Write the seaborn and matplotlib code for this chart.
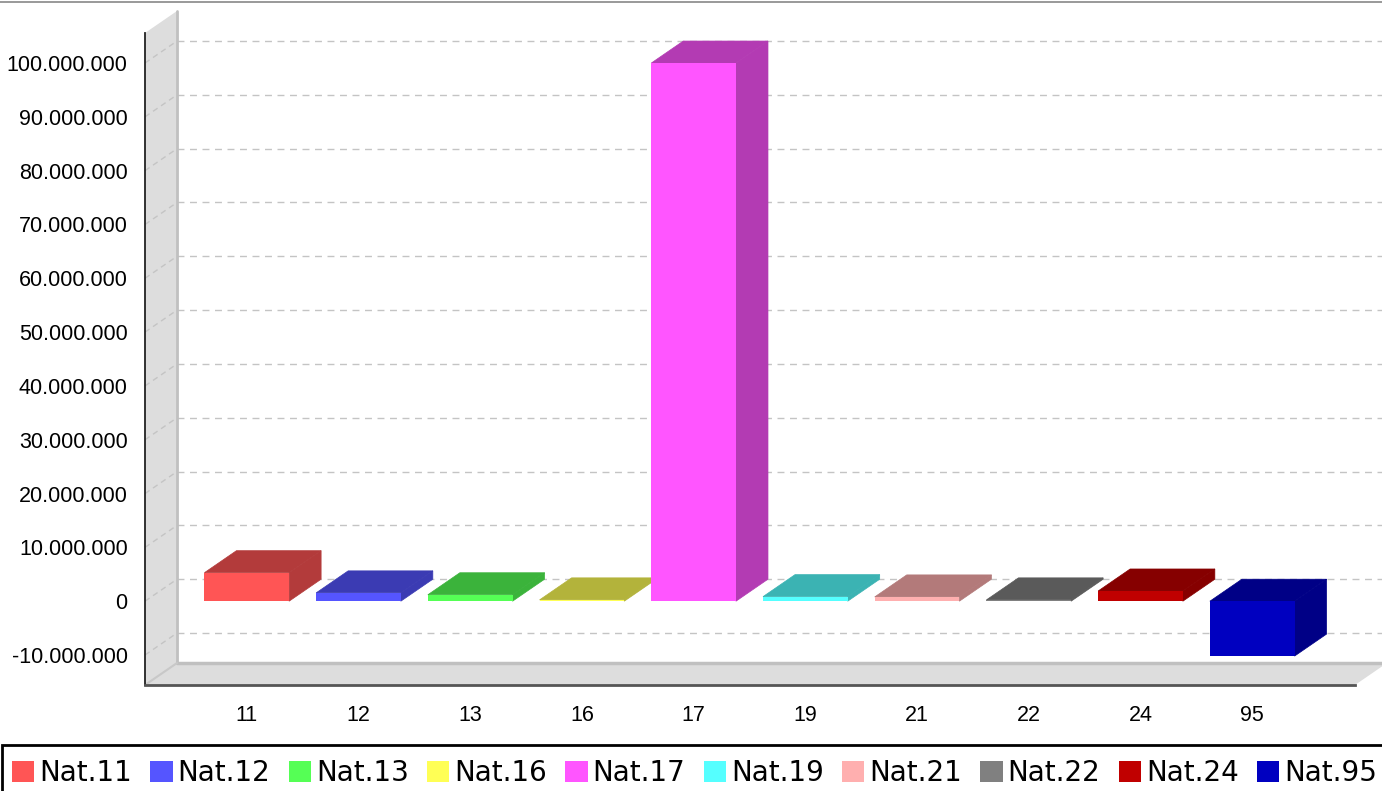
import matplotlib
matplotlib.use("Agg")
import matplotlib.pyplot as plt
import matplotlib.transforms as mtrans
from matplotlib.patches import Polygon, Rectangle, Patch
from matplotlib.lines import Line2D
import numpy as np
import pandas as pd
import seaborn as sns

# ---- data ----
categories = ["11", "12", "13", "16", "17", "19", "21", "22", "24", "95"]
values = [5.3e6, 1.55e6, 1.2e6, 0.25e6, 100.0e6, 0.85e6, 0.8e6, 0.25e6, 1.9e6, -10.2e6]
legend_labels = ["Nat." + c for c in categories]
colors = ["#FF5555", "#5555FF", "#55FF55", "#FFFF55", "#FF55FF",
          "#55FFFF", "#FFAFAF", "#808080", "#C00000", "#0000C0"]
yticks = list(range(-10_000_000, 100_000_001, 10_000_000))

sns.set_style("white")
plt.rcParams["font.family"] = ["Liberation Sans", "DejaVu Sans"]

W, H = 1382, 791
fig = plt.figure(figsize=(W / 100, H / 100), dpi=100)
ax = fig.add_axes([145 / W, 1 - 685 / H, 1210 / W, 652 / H])

df = pd.DataFrame({"cat": categories, "val": values})
sns.barplot(data=df, x="cat", y="val", hue="cat", palette=colors, order=categories,
            hue_order=categories, width=0.758, saturation=1, legend=False,
            linewidth=0, ax=ax, zorder=3)

XL, XR = -0.911, 9.92
Y0, Y1 = -15.57e6, 105.58e6
ax.set_xlim(XL, XR)
ax.set_ylim(Y0, Y1)
ax.set_xlabel("")
ax.set_ylabel("")
ax.patch.set_alpha(0)

for s in ["top", "right"]:
    ax.spines[s].set_visible(False)
ax.spines["left"].set_color("#222222")
ax.spines["left"].set_linewidth(1.3)
ax.spines["bottom"].set_color("#555555")
ax.spines["bottom"].set_linewidth(2)
ax.spines["left"].set_zorder(5)
ax.spines["bottom"].set_zorder(5)

ax.set_yticks(yticks)
ax.set_yticklabels([f"{v:,}".replace(",", ".") for v in yticks])
ax.tick_params(axis="y", length=4, width=1, color="#222222", pad=8.5, labelsize=15.5,
               labelcolor="black")
ax.tick_params(axis="x", length=5, width=1, color="#333333", pad=9.5, labelsize=15.5,
               labelcolor="black")
ax.set_xticks(range(len(categories)))
ax.set_xticklabels(categories)

# depth offset
DX, DY = 32, 22
off = mtrans.ScaledTranslation(DX / 100, DY / 100, fig.dpi_scale_trans)
back = ax.transData + off
ident = mtrans.IdentityTransform()

def front_px(x, y):
    return ax.transData.transform((x, y))

def back_px(x, y):
    return back.transform((x, y))

x_back_right = XL + (W - 177) / 111.7

# back-wall gridlines
for t in yticks:
    ax.add_line(Line2D([XL, x_back_right], [t, t], transform=back, color="#c4c4c4",
                       lw=1, ls=(0, (5, 4)), clip_on=False, zorder=0.6))
    p1, p2 = front_px(XL, t), back_px(XL, t)
    ax.add_line(Line2D([p1[0], p2[0]], [p1[1], p2[1]], transform=ident, color="#c4c4c4",
                       lw=1, ls=(0, (4, 3)), clip_on=False, zorder=0.7))

# left wall
lw_pts = [front_px(XL, Y0), front_px(XL, Y1), back_px(XL, Y1), back_px(XL, Y0)]
ax.add_patch(Polygon(lw_pts, closed=True, transform=ident, facecolor="#dddddd",
                     edgecolor="none", clip_on=False, zorder=0.5))
b0, b1 = back_px(XL, Y0), back_px(XL, Y1)
ax.add_line(Line2D([b0[0], b1[0]], [b0[1], b1[1]], transform=ident, color="#c0c0c0",
                   lw=2, clip_on=False, zorder=0.8))
# floor
fl_pts = [front_px(XL, Y0), front_px(XR, Y0), back_px(XR, Y0), back_px(XL, Y0)]
ax.add_patch(Polygon(fl_pts, closed=True, transform=ident, facecolor="#dddddd",
                     edgecolor="none", clip_on=False, zorder=0.5))
ax.add_line(Line2D([b0[0], W + 5], [b0[1], b0[1]], transform=ident, color="#c0c0c0",
                   lw=2.5, clip_on=False, zorder=0.8))
fa, fb = front_px(XL, Y0), back_px(XL, Y0)
ax.add_line(Line2D([fa[0], fb[0]], [fa[1], fb[1]], transform=ident, color="#c8c8c8",
                   lw=1.5, clip_on=False, zorder=0.8))

# 3-D faces of bars
for p in list(ax.patches):
    if not isinstance(p, Rectangle) or p.get_zorder() != 3:
        continue
    x0, w = p.get_x(), p.get_width()
    yb, h = p.get_y(), p.get_height()
    ytop, ybot = max(yb, yb + h), min(yb, yb + h)
    fc = np.array(p.get_facecolor()[:3]) * 0.7
    side = [front_px(x0 + w, ybot), front_px(x0 + w, ytop), back_px(x0 + w, ytop), back_px(x0 + w, ybot)]
    top = [front_px(x0, ytop), front_px(x0 + w, ytop), back_px(x0 + w, ytop), back_px(x0, ytop)]
    for pts in (side, top):
        ax.add_patch(Polygon(pts, closed=True, transform=ident, facecolor=fc,
                             edgecolor=fc, lw=0.5, clip_on=False, zorder=2))

# top border line of image
fig.add_artist(Line2D([0, 1], [1 - 1.5 / H, 1 - 1.5 / H], transform=fig.transFigure,
                      color="#888888", lw=1.2))

# legend box
fig.add_artist(Rectangle((2 / W, -0.01), 1.0, (791 - 745) / H + 0.01, transform=fig.transFigure,
                         facecolor="white", edgecolor="black", lw=2))
handles = [Patch(facecolor=c, edgecolor="none") for c in colors]
leg = fig.legend(handles, legend_labels, loc="center left", bbox_to_anchor=(12 / W, 1 - 773 / H),
                 ncol=10, frameon=False, prop={"family": "DejaVu Sans", "size": 20},
                 handlelength=0.8, handleheight=0.8, handletextpad=0.18,
                 columnspacing=0.66, borderpad=0, borderaxespad=0)
for t in leg.get_texts():
    t.set_color("black")

fig.savefig("out.png", dpi=100)
